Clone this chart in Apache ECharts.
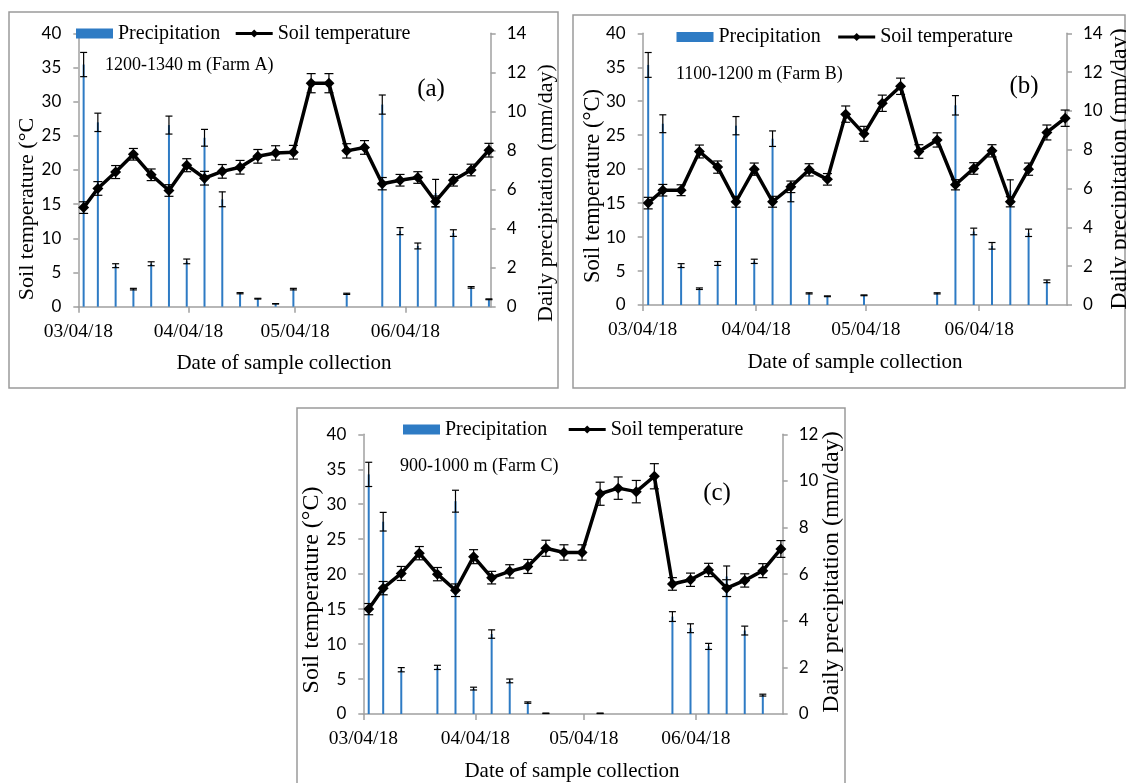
<!DOCTYPE html>
<html>
<head>
<meta charset="utf-8">
<script src="https://cdn.jsdelivr.net/npm/echarts@6/dist/echarts.min.js"></script>
<style>
  html, body { margin: 0; padding: 0; background: #fff; }
  #chart { width: 1126px; height: 783px; }
</style>
</head>
<body>
<div id="chart"></div>
<script>
// sampling dates (every ~5 days) and x-axis ticks
const sampleDates = [
  '2018-03-05', '2018-03-09', '2018-03-14', '2018-03-19', '2018-03-24', '2018-03-29',
  '2018-04-03', '2018-04-08', '2018-04-13', '2018-04-18', '2018-04-23', '2018-04-28',
  '2018-05-03', '2018-05-08', '2018-05-13', '2018-05-18', '2018-05-23', '2018-05-28',
  '2018-06-02', '2018-06-07', '2018-06-12', '2018-06-17', '2018-06-22', '2018-06-27'
];
const tickDates = ['2018-03-04', '2018-04-04', '2018-05-04', '2018-06-04'];
const tickLabels = ['03/04/18', '04/04/18', '05/04/18', '06/04/18'];
const axisStart = '2018-03-04';
const axisEnd = '2018-06-28';

// Farm A
const tempA = [14.5, 17.3, 19.7, 22.3, 19.3, 17.0, 20.7, 18.8, 19.8, 20.4, 22.0, 22.5, 22.6, 32.7, 32.7, 22.8, 23.3, 18.0, 18.5, 18.9, 15.4, 18.5, 20.0, 22.9];
const tempErrA = [0.85, 1.0, 0.95, 0.85, 0.85, 0.85, 0.95, 1.0, 1.0, 1.0, 1.0, 1.05, 1.0, 1.4, 1.4, 1.05, 1.0, 0.9, 0.85, 0.85, 0.8, 0.85, 0.85, 1.0];
const precA = [12.4, 9.44, 2.1, 0.9, 2.2, 9.3, 2.32, 8.65, 5.5, 0.69, 0.41, 0.15, 0.9, 0, 0, 0.66, 0, 10.35, 3.87, 3.11, 5.82, 3.77, 0.99, 0.38];
const precErrA = [0.62, 0.47, 0.1, 0.04, 0.1, 0.46, 0.12, 0.43, 0.38, 0.03, 0.02, 0.01, 0.04, 0, 0, 0.03, 0, 0.49, 0.18, 0.15, 0.7, 0.17, 0.04, 0.02];

// Farm B
const tempB = [15.0, 16.9, 16.9, 22.6, 20.3, 15.2, 20.0, 15.2, 17.4, 19.9, 18.5, 28.1, 25.2, 29.7, 32.2, 22.6, 24.3, 17.7, 20.1, 22.7, 15.2, 20.0, 25.4, 27.5];
const tempErrB = [0.85, 0.85, 0.8, 0.95, 0.9, 0.8, 0.9, 0.8, 0.85, 0.9, 0.85, 1.2, 1.1, 1.2, 1.2, 1.0, 1.05, 0.75, 0.85, 0.9, 0.75, 0.9, 1.1, 1.2];
const precB = [12.37, 9.34, 2.03, 0.84, 2.14, 9.24, 2.25, 8.57, 5.77, 0.6, 0.45, 0, 0.5, 0, 0, 0, 0.6, 10.29, 3.79, 3.05, 5.9, 3.72, 1.22, 0];
const precErrB = [0.64, 0.46, 0.1, 0.04, 0.1, 0.47, 0.11, 0.4, 0.45, 0.03, 0.02, 0, 0.02, 0, 0, 0, 0.03, 0.5, 0.17, 0.17, 0.55, 0.19, 0.07, 0];

// Farm C
const tempC = [15.0, 18.0, 20.1, 23.0, 20.0, 17.7, 22.5, 19.5, 20.4, 21.1, 23.7, 23.1, 23.1, 31.5, 32.3, 31.8, 34.0, 18.6, 19.2, 20.6, 18.0, 19.1, 20.5, 23.6];
const tempErrC = [0.8, 0.95, 1.0, 0.95, 0.95, 0.9, 1.0, 0.9, 0.95, 1.0, 1.15, 1.1, 1.1, 1.65, 1.6, 1.6, 1.8, 0.9, 0.95, 0.95, 1.2, 0.95, 1.0, 1.2];
const precC = [10.28, 8.25, 1.9, 0, 2.0, 9.13, 1.09, 3.43, 1.42, 0.49, 0.03, 0, 0, 0.03, 0, 0, 0, 4.18, 3.68, 2.9, 5.9, 3.58, 0.81, 0];
const precErrC = [0.52, 0.4, 0.09, 0, 0.09, 0.47, 0.06, 0.18, 0.08, 0.03, 0.01, 0, 0, 0.01, 0, 0, 0, 0.21, 0.19, 0.13, 0.45, 0.19, 0.04, 0];

const SERIF = "'Liberation Serif', 'Times New Roman', serif";
const SANS = "Lato, 'Liberation Sans', sans-serif";
const AXIS_GRAY = '#a0a0a0';
const BAR_BLUE = '#2e7bc4';

function dayOffset(s) {
  const p = s.split('-').map(Number);
  const q = axisStart.split('-').map(Number);
  return (Date.UTC(p[0], p[1] - 1, p[2]) - Date.UTC(q[0], q[1] - 1, q[2])) / 86400000;
}

// excel date axis puts each point in the middle of its day
const sampleDays = sampleDates.map(d => dayOffset(d) + 0.5);
const tickDays = tickDates.map(dayOffset);
const maxDay = dayOffset(axisEnd);

const panels = [
  {
    temp: tempA, tempErr: tempErrA, prec: precA, precErr: precErrA, precMax: 14,
    grid: { left: 78.3, top: 33.3, width: 412.4, height: 273.4 },
    legend: { left: 71, top: 18.5, gap: 14 },
    box: { x: 9, y: 12, width: 549, height: 376 },
    site: { text: '1200-1340 m (Farm A)', x: 105, y: 65 },
    tag: { text: '(a)', x: 431, y: 89 },
    leftName: { text: 'Soil temperature (\u00b0C', x: 27, y: 209, size: 22 },
    rightName: { x: 546, y: 193, size: 22 },
    xName: { x: 284, y: 363 }
  },
  {
    temp: tempB, tempErr: tempErrB, prec: precB, precErr: precErrB, precMax: 14,
    grid: { left: 642.7, top: 33.3, width: 424.3, height: 271.7 },
    legend: { left: 671.5, top: 22, gap: 16 },
    box: { x: 573, y: 15, width: 552, height: 373 },
    site: { text: '1100-1200 m (Farm B)', x: 676, y: 74 },
    tag: { text: '(b)', x: 1024, y: 86 },
    leftName: { text: 'Soil temperature (\u00b0C)', x: 593, y: 186, size: 22.5 },
    rightName: { x: 1120, y: 169, size: 24 },
    xName: { x: 855, y: 362 }
  },
  {
    temp: tempC, tempErr: tempErrC, prec: precC, precErr: precErrC, precMax: 12,
    grid: { left: 363.3, top: 434.3, width: 419.4, height: 279.7 },
    legend: { left: 398, top: 414.5, gap: 20 },
    box: { x: 297, y: 408, width: 548, height: 390 },
    site: { text: '900-1000 m (Farm C)', x: 400, y: 466 },
    tag: { text: '(c)', x: 717, y: 493 },
    leftName: { text: 'Soil temperature (\u00b0C)', x: 312, y: 590, size: 24 },
    rightName: { x: 832, y: 572, size: 24 },
    xName: { x: 572, y: 771 }
  }
];

function errorBars(capHalf) {
  return function (params, api) {
    const x = api.value(0);
    const top = api.coord([x, api.value(2)]);
    const bot = api.coord([x, api.value(1)]);
    const style = { stroke: '#000', lineWidth: 1.2 };
    return {
      type: 'group',
      children: [
        { type: 'line', shape: { x1: top[0], y1: top[1], x2: bot[0], y2: bot[1] }, style },
        { type: 'line', shape: { x1: top[0] - capHalf, y1: top[1], x2: top[0] + capHalf, y2: top[1] }, style },
        { type: 'line', shape: { x1: bot[0] - capHalf, y1: bot[1], x2: bot[0] + capHalf, y2: bot[1] }, style }
      ]
    };
  };
}

const option = {
  animation: false,
  backgroundColor: '#fff',
  grid: [], xAxis: [], yAxis: [], legend: [], series: [], graphic: []
};

panels.forEach((p, i) => {
  option.grid.push(Object.assign({ containLabel: false }, p.grid));

  option.xAxis.push({
    type: 'value', gridIndex: i, min: 0, max: maxDay,
    axisLine: { show: true, onZero: false, lineStyle: { color: AXIS_GRAY, width: 1.5 } },
    axisTick: { show: true, customValues: tickDays, length: 6, lineStyle: { color: AXIS_GRAY, width: 1.5 } },
    axisLabel: {
      customValues: tickDays,
      formatter: v => tickLabels[tickDays.indexOf(v)] || '',
      margin: 15, fontFamily: SERIF, fontSize: 19.5, color: '#000'
    },
    splitLine: { show: false }
  });

  const yCommon = {
    type: 'value', gridIndex: i, min: 0,
    axisLine: { show: true, lineStyle: { color: AXIS_GRAY, width: 1.5 } },
    axisTick: { show: true, length: 5, lineStyle: { color: AXIS_GRAY, width: 1.5 } },
    splitLine: { show: false }
  };
  option.yAxis.push(Object.assign({}, yCommon, {
    position: 'left', max: 40, interval: 5,
    axisLabel: { margin: 17, fontFamily: SANS, fontSize: 17, color: '#000' }
  }));
  option.yAxis.push(Object.assign({}, yCommon, {
    position: 'right', max: p.precMax, interval: 2,
    axisLabel: { margin: 16, fontFamily: SANS, fontSize: 17, color: '#000' }
  }));

  option.legend.push({
    left: p.legend.left, top: p.legend.top,
    itemWidth: 37, itemHeight: 10, itemGap: p.legend.gap, selectedMode: false,
    textStyle: { fontFamily: SERIF, fontSize: 20, color: '#000' },
    data: [
      { name: 'Precipitation', icon: 'rect' },
      { name: 'Soil temperature', lineStyle: { color: '#000', width: 3 }, itemStyle: { color: '#000' } }
    ]
  });

  const yT = 2 * i, yP = 2 * i + 1;
  option.series.push({
    name: 'Precipitation', type: 'bar', xAxisIndex: i, yAxisIndex: yP,
    barWidth: 2, itemStyle: { color: BAR_BLUE }, z: 1,
    data: sampleDays.map((d, k) => [d, p.prec[k]])
  });
  option.series.push({
    type: 'custom', xAxisIndex: i, yAxisIndex: yP, z: 2,
    renderItem: errorBars(3.5), encode: { x: 0, y: [1, 2] },
    data: sampleDays.map((d, k) => [d, p.prec[k] - p.precErr[k], p.prec[k] + p.precErr[k]])
      .filter((r, k) => p.prec[k] > 0)
  });
  option.series.push({
    type: 'custom', xAxisIndex: i, yAxisIndex: yT, z: 3,
    renderItem: errorBars(4.5), encode: { x: 0, y: [1, 2] },
    data: sampleDays.map((d, k) => [d, p.temp[k] - p.tempErr[k], p.temp[k] + p.tempErr[k]])
  });
  option.series.push({
    name: 'Soil temperature', type: 'line', xAxisIndex: i, yAxisIndex: yT, z: 4,
    symbol: 'diamond', symbolSize: 11,
    lineStyle: { color: '#000', width: 3.5 }, itemStyle: { color: '#000' },
    data: sampleDays.map((d, k) => [d, p.temp[k]])
  });

  // panel frame and annotations
  option.graphic.push(
    { type: 'rect', shape: p.box, style: { fill: 'none', stroke: '#9a9a9a', lineWidth: 1.5 }, z: -1 },
    { type: 'text', x: p.site.x, y: p.site.y,
      style: { text: p.site.text, font: '18px ' + SERIF, fill: '#000', verticalAlign: 'middle' } },
    { type: 'text', x: p.tag.x, y: p.tag.y,
      style: { text: p.tag.text, font: '25px ' + SERIF, fill: '#000', align: 'center', verticalAlign: 'middle' } },
    { type: 'text', x: p.leftName.x, y: p.leftName.y, rotation: Math.PI / 2,
      style: { text: p.leftName.text, font: p.leftName.size + 'px ' + SERIF, fill: '#000', align: 'center', verticalAlign: 'middle' } },
    { type: 'text', x: p.rightName.x, y: p.rightName.y, rotation: Math.PI / 2,
      style: { text: 'Daily precipitation (mm/day)', font: p.rightName.size + 'px ' + SERIF, fill: '#000', align: 'center', verticalAlign: 'middle' } },
    { type: 'text', x: p.xName.x, y: p.xName.y,
      style: { text: 'Date of sample collection', font: '21px ' + SERIF, fill: '#000', align: 'center', verticalAlign: 'middle' } }
  );
});

const chart = echarts.init(document.getElementById('chart'), null, { renderer: 'canvas' });
chart.setOption(option);
</script>
</body>
</html>
